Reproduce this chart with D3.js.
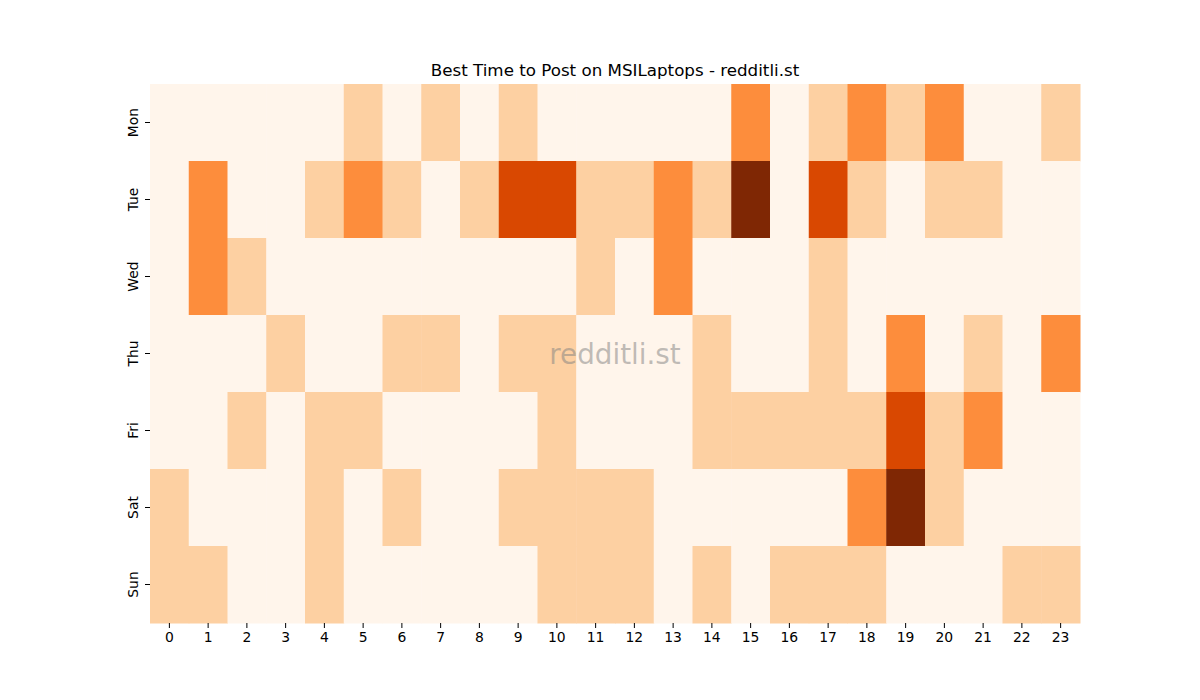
<!DOCTYPE html>
<html>
<head>
<meta charset="utf-8">
<script src="https://cdn.jsdelivr.net/npm/d3@7"></script>
<style>
  body { margin: 0; background: #fff; }
  text { font-family: "DejaVu Sans", sans-serif; }
</style>
</head>
<body>
<div id="chart"></div>
<script>
// heatmap data: post counts per weekday x hour
var days = ["Mon", "Tue", "Wed", "Thu", "Fri", "Sat", "Sun"]
var hours = d3.range(24)
var mon = [0,0,0,0,0,1,0,1,0,1,0,0,0,0,0,2,0,1,2,1,2,0,0,1]
var tue = [0,2,0,0,1,2,1,0,1,3,3,1,1,2,1,4,0,3,1,0,1,1,0,0]
var wed = [0,2,1,0,0,0,0,0,0,0,0,1,0,2,0,0,0,1,0,0,0,0,0,0]
var thu = [0,0,0,1,0,0,1,1,0,1,1,0,0,0,1,0,0,1,0,2,0,1,0,2]
var fri = [0,0,1,0,1,1,0,0,0,0,1,0,0,0,1,1,1,1,1,3,1,2,0,0]
var sat = [1,0,0,0,1,0,1,0,0,1,1,1,1,0,0,0,0,0,2,4,1,0,0,0]
var sun = [1,1,0,0,1,0,0,0,0,0,1,1,1,0,1,0,1,1,1,0,0,0,1,1]
var rows = [mon, tue, wed, thu, fri, sat, sun]

var width = 1200,
    height = 700;
var margin = { top: 84, right: 120, bottom: 77, left: 150 };

var svg = d3.select("#chart")
  .append("svg")
    .attr("width", width)
    .attr("height", height);

var x = d3.scaleBand()
  .domain(hours)
  .range([margin.left, width - margin.right]);
var y = d3.scaleBand()
  .domain(days)
  .range([margin.top, height - margin.bottom]);

// matplotlib "Oranges" stops
var maxVal = d3.max(rows, function(r) { return d3.max(r); });
var color = d3.scaleLinear()
  .domain(d3.range(9).map(function(i) { return i * maxVal / 8; }))
  .range(["#fff5eb", "#fee6ce", "#fdd0a2", "#fdae6b", "#fd8d3c", "#f16913", "#d94801", "#a63603", "#7f2704"]);

var cells = [];
rows.forEach(function(r, i) {
  r.forEach(function(v, h) {
    cells.push({ day: days[i], hour: h, value: v });
  });
});

svg.append("g")
  .selectAll("rect")
  .data(cells)
  .enter()
    .append("rect")
    .attr("x", function(d) { return x(d.hour); })
    .attr("y", function(d) { return y(d.day); })
    .attr("width", x.bandwidth() + 0.5)
    .attr("height", y.bandwidth() + 0.5)
    .attr("fill", function(d) { return color(d.value); });

// axes, no domain line like seaborn
var xAxis = svg.append("g")
  .attr("transform", "translate(0," + (height - margin.bottom) + ")")
  .call(d3.axisBottom(x).tickSize(5).tickPadding(4));
xAxis.select(".domain").remove();
xAxis.selectAll("text").style("font-size", "13.9px").attr("fill", "#000");
xAxis.selectAll("line").attr("stroke", "#000");

var yAxis = svg.append("g")
  .attr("transform", "translate(" + margin.left + ",0)")
  .call(d3.axisLeft(y).tickSize(5).tickPadding(4));
yAxis.select(".domain").remove();
yAxis.selectAll("line").attr("stroke", "#000");
yAxis.selectAll("text")
  .style("font-size", "13.9px")
  .attr("fill", "#000")
  .attr("x", null)
  .attr("dy", null)
  .attr("text-anchor", "middle")
  .attr("transform", "translate(-12,0) rotate(-90)");

svg.append("text")
  .attr("x", (margin.left + width - margin.right) / 2)
  .attr("y", 76)
  .attr("text-anchor", "middle")
  .style("font-size", "16.7px")
  .text("Best Time to Post on MSILaptops - redditli.st");

// watermark
svg.append("text")
  .attr("x", (margin.left + width - margin.right) / 2)
  .attr("y", y("Thu") + y.bandwidth() / 2 + 10)
  .attr("text-anchor", "middle")
  .style("font-size", "27.8px")
  .attr("fill", "#808080")
  .attr("fill-opacity", 0.5)
  .text("redditli.st");
</script>
</body>
</html>
